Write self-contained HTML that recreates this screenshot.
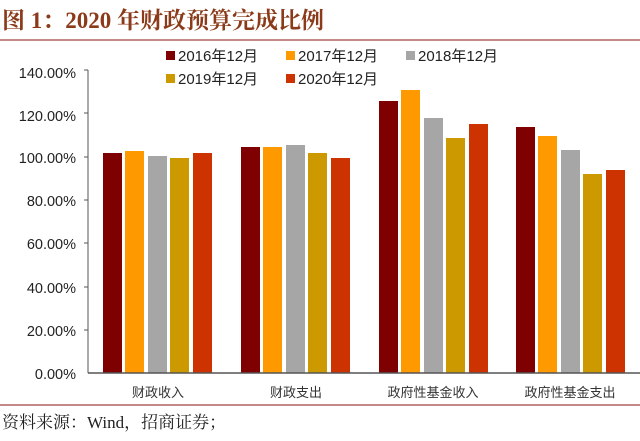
<!DOCTYPE html>
<html><head><meta charset="utf-8"><style>
body{margin:0;background:#fff;width:640px;height:436px;overflow:hidden}
svg text{font-family:"Liberation Sans","Noto Sans CJK SC",sans-serif}
</style></head><body>
<svg width="640" height="436" xmlns="http://www.w3.org/2000/svg">
<text x="2" y="28" font-size="23" font-weight="bold" fill="#8b3a1a" style="font-family:'Liberation Serif','Noto Serif CJK SC',serif">图 1：2020 年财政预算完成比例</text>
<line x1="0" y1="40" x2="640" y2="40" stroke="#b06060" stroke-width="1.5"/>
<line x1="0" y1="405" x2="640" y2="405" stroke="#b06060" stroke-width="1.5"/>
<g font-size="15" fill="#222">
<rect x="166" y="51" width="9" height="9" fill="#7f0000"/><text x="178" y="61">2016年12月</text>
<rect x="286" y="51" width="9" height="9" fill="#ff9900"/><text x="298" y="61">2017年12月</text>
<rect x="406" y="51" width="9" height="9" fill="#a6a6a6"/><text x="418" y="61">2018年12月</text>
<rect x="166" y="74" width="9" height="9" fill="#cc9900"/><text x="178" y="84">2019年12月</text>
<rect x="286" y="74" width="9" height="9" fill="#cc3300"/><text x="298" y="84">2020年12月</text>
</g>
<g font-size="14.5" fill="#222" text-anchor="end">
<text x="76" y="78">140.00%</text>
<text x="76" y="121">120.00%</text>
<text x="76" y="163">100.00%</text>
<text x="76" y="206">80.00%</text>
<text x="76" y="249">60.00%</text>
<text x="76" y="293">40.00%</text>
<text x="76" y="336">20.00%</text>
<text x="76" y="379">0.00%</text>
</g>
<g stroke="#555" stroke-width="1">
<line x1="88" y1="70" x2="88" y2="373"/>
<line x1="84" y1="70" x2="88" y2="70"/><line x1="84" y1="113" x2="88" y2="113"/><line x1="84" y1="157" x2="88" y2="157"/><line x1="84" y1="200" x2="88" y2="200"/><line x1="84" y1="243" x2="88" y2="243"/><line x1="84" y1="287" x2="88" y2="287"/><line x1="84" y1="330" x2="88" y2="330"/>
</g>
<g>
<rect x="103" y="153" width="19" height="220" fill="#7f0000"/>
<rect x="125" y="151" width="19" height="222" fill="#ff9900"/>
<rect x="148" y="156" width="19" height="217" fill="#a6a6a6"/>
<rect x="170" y="158" width="19" height="215" fill="#cc9900"/>
<rect x="193" y="153" width="19" height="220" fill="#cc3300"/>

<rect x="241" y="147" width="19" height="226" fill="#7f0000"/>
<rect x="263" y="147" width="19" height="226" fill="#ff9900"/>
<rect x="286" y="145" width="19" height="228" fill="#a6a6a6"/>
<rect x="308" y="153" width="19" height="220" fill="#cc9900"/>
<rect x="331" y="158" width="19" height="215" fill="#cc3300"/>

<rect x="379" y="101" width="19" height="272" fill="#7f0000"/>
<rect x="401" y="90" width="19" height="283" fill="#ff9900"/>
<rect x="424" y="118" width="19" height="255" fill="#a6a6a6"/>
<rect x="446" y="138" width="19" height="235" fill="#cc9900"/>
<rect x="469" y="124" width="19" height="249" fill="#cc3300"/>

<rect x="516" y="127" width="19" height="246" fill="#7f0000"/>
<rect x="538" y="136" width="19" height="237" fill="#ff9900"/>
<rect x="561" y="150" width="19" height="223" fill="#a6a6a6"/>
<rect x="583" y="174" width="19" height="199" fill="#cc9900"/>
<rect x="606" y="170" width="19" height="203" fill="#cc3300"/>
</g>
<line x1="88" y1="373" x2="640" y2="373" stroke="#555" stroke-width="1.5"/>
<g font-size="13" fill="#333" text-anchor="middle" style="font-family:'Liberation Serif','Noto Serif CJK SC',serif">
<text x="158" y="397">财政收入</text>
<text x="296" y="397">财政支出</text>
<text x="433" y="397">政府性基金收入</text>
<text x="570" y="397">政府性基金支出</text>
</g>
<text x="2" y="428" font-size="17" fill="#222" style="font-family:'Liberation Serif','Noto Serif CJK SC',serif">资料来源：Wind，招商证券；</text>
</svg>
</body></html>
